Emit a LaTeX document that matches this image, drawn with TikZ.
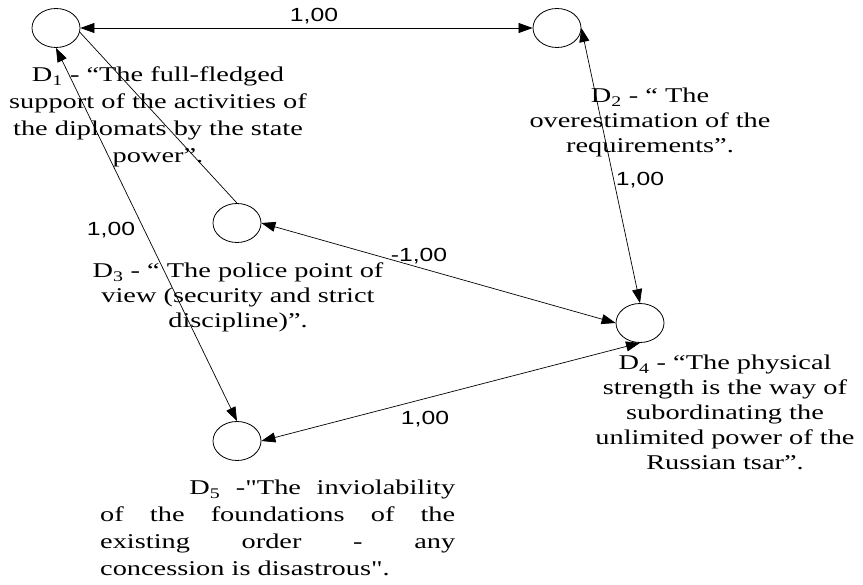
\documentclass[tikz,border=0pt]{standalone}
\usepackage{fontspec}
\usepackage{graphicx}
\setmainfont{Liberation Serif}
\newfontfamily\lblfont{Liberation Sans}
\usetikzlibrary{shapes.geometric,arrows.meta}
\newcommand\sxr{1.35}
\newcommand\dtext[2]{\scalebox{\sxr}[1]{\fontsize{21}{#1}\selectfont\begin{tabular}[t]{@{}c@{}}#2\end{tabular}}}
\newcommand\wlbl[1]{\scalebox{1.3}[1]{\lblfont\fontsize{19}{22}\selectfont #1}}
\tikzset{
  concept/.style={draw, ellipse, line width=0.8pt, minimum width=48pt, minimum height=39pt, inner sep=0pt},
  txt/.style={inner sep=0pt, anchor=base},
  link/.style={line width=0.7pt, {Triangle[length=14pt,width=10pt]}-{Triangle[length=14pt,width=10pt]}},
  plain/.style={line width=0.7pt},
  wt/.style={inner sep=0pt}
}
\begin{document}
\begin{tikzpicture}[x=1pt,y=1pt]
\useasboundingbox (0,0) rectangle (863,-585);
\fill[white] (0,0) rectangle (863,-585);
% concepts
\node[concept] (d1) at (56,-28) {};
\node[concept] (d2) at (557,-28) {};
\node[concept] (d3) at (237,-223) {};
\node[concept] (d4) at (640,-323) {};
\node[concept] (d5) at (237,-441) {};
% connectors
\draw[link] (d1.east) -- (d2.west);
\draw[link] (d2.east) -- (d4.north);
\draw[link] (d1.south) -- (d5.north);
\draw[plain] (d3.north) -- (d1.-10);
\draw[link] (d3.east) -- (d4.west);
\draw[link] (d4.south) -- (d5.east);
% weights
\node[wt] (w12) at (314,-16) {\wlbl{1,00}};
\node[wt] (w24) at (640,-180) {\wlbl{1,00}};
\node[wt] (w15) at (111,-230) {\wlbl{1,00}};
\node[wt] (w34) at (419,-256) {\wlbl{-1,00}};
\node[wt] (w45) at (425,-419) {\wlbl{1,00}};
% texts
\node[txt] (t1) at (158,-82) {\dtext{27}{D\textsubscript{1} - “The full-fledged\\support of the activities of\\the diplomats by the state\\power”.}};
\node[txt] (t2) at (650,-103) {\dtext{25}{D\textsubscript{2} - “ The\\overestimation of the\\requirements”.}};
\node[txt] (t3) at (238,-278) {\dtext{25}{D\textsubscript{3} - “ The police point of\\view (security and strict\\discipline)”.}};
\node[txt] (t4) at (725,-370) {\dtext{25}{D\textsubscript{4} - “The physical\\strength is the way of\\subordinating the\\unlimited power of the\\Russian tsar”.}};
\node[inner sep=0pt, anchor=base west] (t5) at (100,-495) {\scalebox{\sxr}[1]{\parbox[t]{263pt}{\fontsize{21}{27}\selectfont\parindent=0pt\sloppy\hspace*{66pt}D\textsubscript{5} -\textquotedbl The inviolability\linebreak of the foundations of the\linebreak existing order - any\linebreak concession is disastrous\textquotedbl.}}};
\end{tikzpicture}
\end{document}
